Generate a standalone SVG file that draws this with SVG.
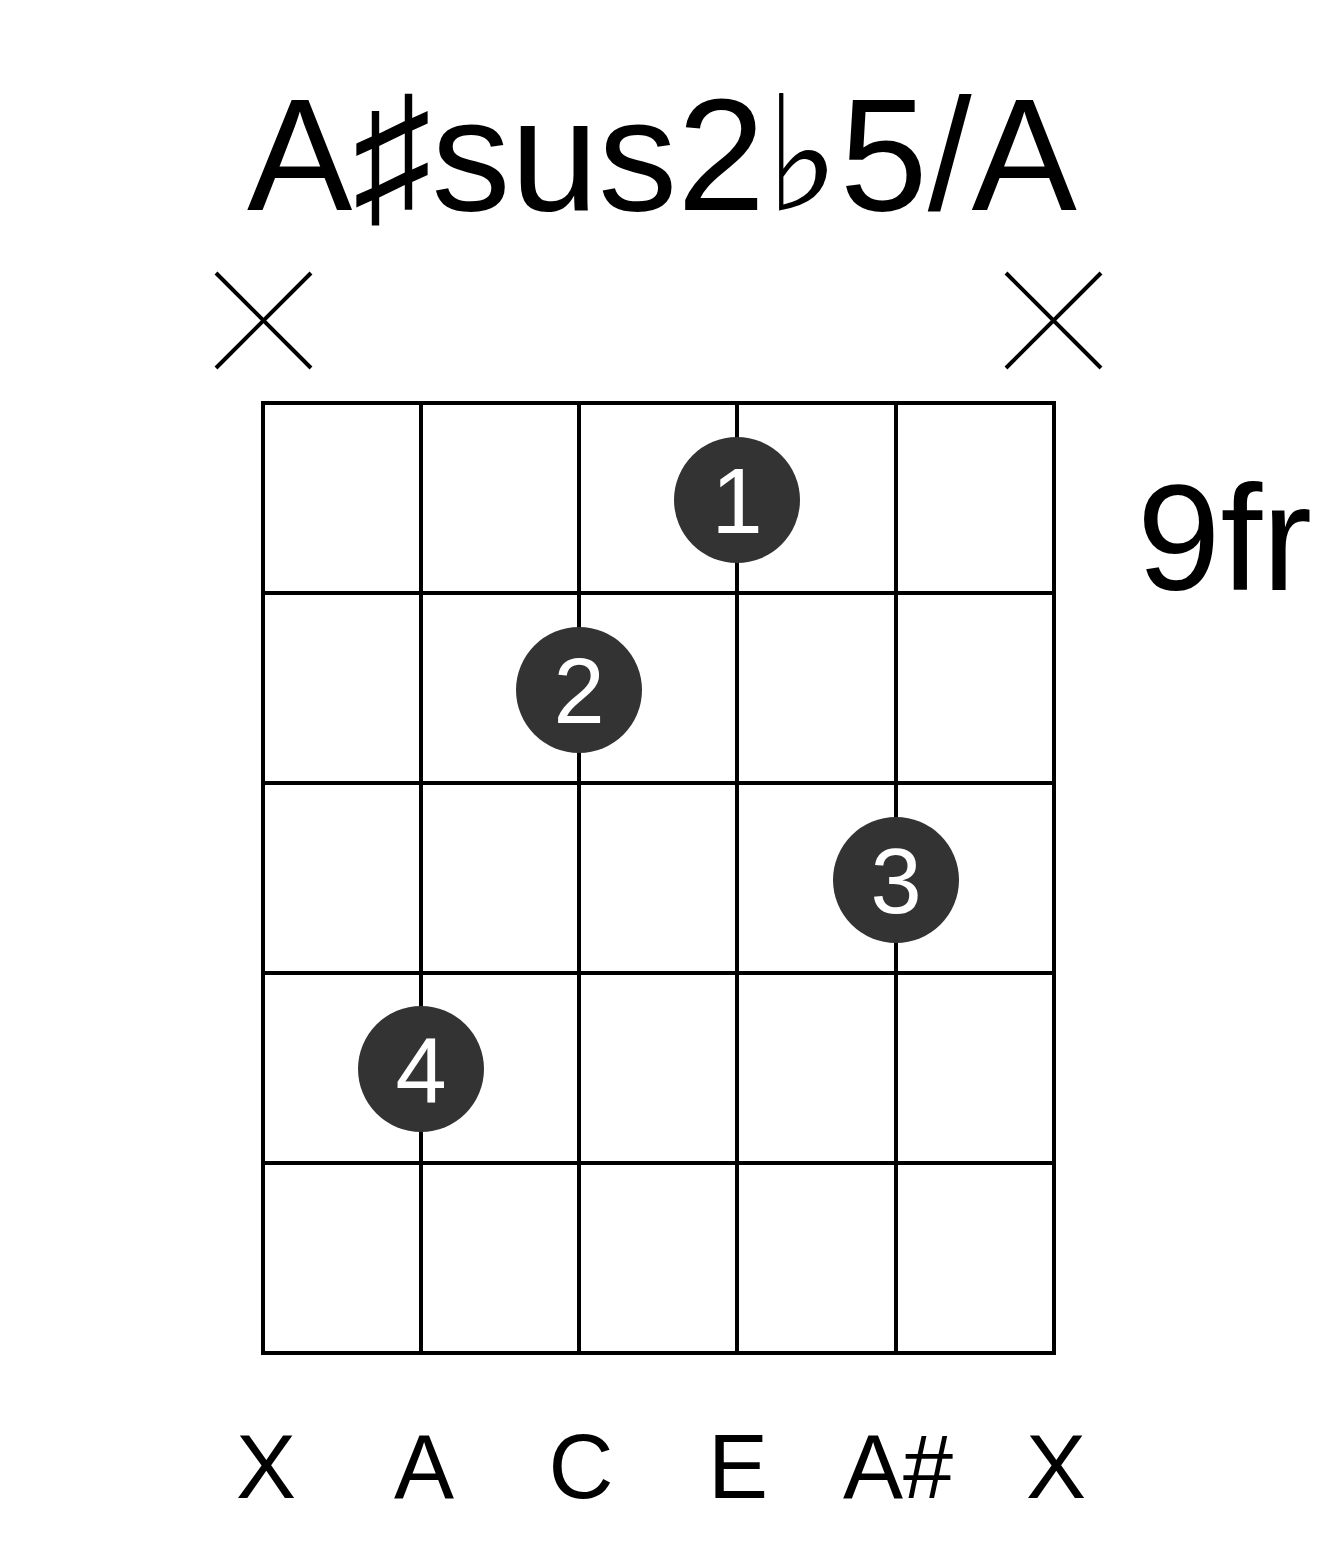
<svg xmlns="http://www.w3.org/2000/svg" width="1317" height="1551" viewBox="0 0 1317 1551">
<style>
.grid line{stroke:#000;stroke-width:4;stroke-linecap:square}
.mute line{stroke:#000;stroke-width:4}
.t{font-family:"Liberation Sans","DejaVu Sans",Arial,sans-serif;fill:#000}
.dot circle{fill:#333}
.dot text{font-family:"Liberation Sans",Arial,sans-serif;fill:#fff;font-size:92px;text-anchor:middle}
.lbl{font-family:"Liberation Sans",Arial,sans-serif;font-size:90px;text-anchor:middle;fill:#000}
</style>
<rect width="1317" height="1551" fill="#fff"/>
<text id="title" class="t" x="247" y="210" font-size="160" textLength="830" lengthAdjust="spacingAndGlyphs">A♯sus2♭5/A</text>
<g id="fret-label"><text class="t" x="1137" y="590" font-size="150">9fr</text></g>
<g id="connectors" class="grid">
<line x1="263" y1="403" x2="263" y2="1353"/>
<line x1="421" y1="403" x2="421" y2="1353"/>
<line x1="579" y1="403" x2="579" y2="1353"/>
<line x1="737" y1="403" x2="737" y2="1353"/>
<line x1="896" y1="403" x2="896" y2="1353"/>
<line x1="1054" y1="403" x2="1054" y2="1353"/>
<line x1="263" y1="403" x2="1054" y2="403"/>
<line x1="263" y1="593" x2="1054" y2="593"/>
<line x1="263" y1="783" x2="1054" y2="783"/>
<line x1="263" y1="973" x2="1054" y2="973"/>
<line x1="263" y1="1163" x2="1054" y2="1163"/>
<line x1="263" y1="1353" x2="1054" y2="1353"/>
</g>
<g id="mute-1" class="mute"><line x1="216" y1="273" x2="311" y2="368"/><line x1="311" y1="273" x2="216" y2="368"/></g>
<g id="mute-6" class="mute"><line x1="1006" y1="273" x2="1101" y2="368"/><line x1="1101" y1="273" x2="1006" y2="368"/></g>
<g id="finger-1" class="dot"><circle cx="737" cy="500" r="63"/><text x="737" y="533">1</text></g>
<g id="finger-2" class="dot"><circle cx="579" cy="690" r="63"/><text x="579" y="723">2</text></g>
<g id="finger-3" class="dot"><circle cx="896" cy="880" r="63"/><text x="896" y="913">3</text></g>
<g id="finger-4" class="dot"><circle cx="421" cy="1069" r="63"/><text x="421" y="1102">4</text></g>
<g id="notes">
<text class="lbl" x="266" y="1498">X</text>
<text class="lbl" x="424" y="1498">A</text>
<text class="lbl" x="581" y="1498">C</text>
<text class="lbl" x="738" y="1498">E</text>
<text class="lbl" x="898" y="1498">A#</text>
<text class="lbl" x="1056" y="1498">X</text>
</g>
</svg>
